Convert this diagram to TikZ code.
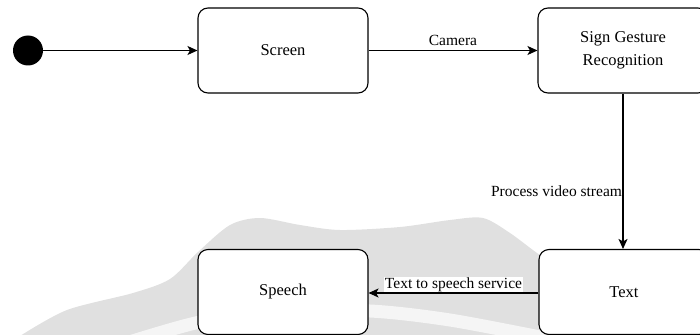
\documentclass[tikz,border=0pt]{standalone}
\usepackage{fontspec}
\setmainfont{Liberation Serif}
\usetikzlibrary{arrows.meta}
\begin{document}
\begin{tikzpicture}[x=1pt,y=-1pt,
  state/.style={draw, fill=white, rounded corners=10pt, line width=1.1pt,
    minimum width=170pt, minimum height=85pt, align=center, inner sep=0pt,
    font=\fontsize{16.5}{23}\selectfont},
  flow/.style={line width=1.1pt, -{Stealth[length=10pt,width=9pt,inset=2.5pt]}},
  lbl/.style={font=\fontsize{15.5}{18}\selectfont, inner sep=1pt}]
\clip (0,0) rectangle (700,334);
\useasboundingbox (0,0) rectangle (700,334);

% faint background swoosh
\fill[black!12] plot[smooth] coordinates {(20,336) (67,310) (133,293) (170,279)
  (198,252) (230,225) (260,218) (300,225) (340,230) (400,227) (450,220) (483,218)
  (510,233) (537,253) (570,275) (620,310) (660,336)} -- cycle;
\draw[black!4, line width=13pt] plot[smooth] coordinates {(120,345) (200,322)
  (283,312) (370,311) (450,320) (545,338)};

% states
\node[circle, fill=black, minimum size=30pt, inner sep=0pt] (init) at (28,50.5) {};
\node[state] (screen) at (283,50.5) {Screen};
\node[state] (sgr) at (623,50.5) {Sign Gesture\\Recognition};
\node[state] (text) at (624,292) {Text};
\node[state] (speech) at (283,292) {Speech};

% transitions
\draw[flow] (init) -- (screen);
\draw[flow] (screen) -- node[lbl, above=3pt] {Camera} (sgr);
\draw[flow] (sgr.south) -- node[lbl, pos=0.63, anchor=east, inner sep=0.5pt] {Process video stream} (sgr.south |- text.north);
\draw[flow] (text.west |- 0,293) -- node[lbl, fill=white, above=0pt, inner sep=0.5pt] {Text to speech service} (speech.east |- 0,293);
\end{tikzpicture}
\end{document}
